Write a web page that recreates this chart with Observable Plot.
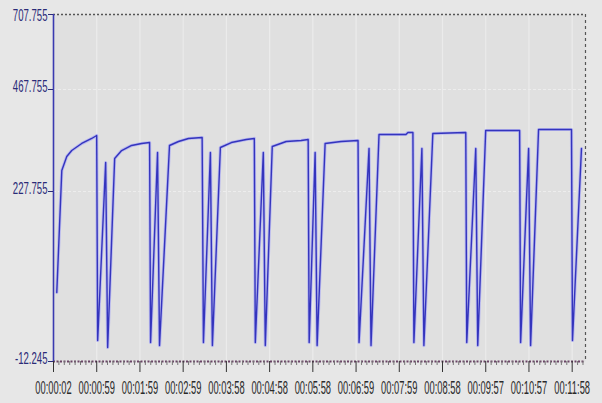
<!DOCTYPE html>
<html><head><meta charset="utf-8">
<script src="https://cdn.jsdelivr.net/npm/d3@7"></script>
<script src="https://cdn.jsdelivr.net/npm/@observablehq/plot@0.6"></script>
<style>
body{margin:0;background:#e7e7e7;}
#chart{width:602px;height:403px;}
</style>
</head><body><div id="chart"></div>
<script>
// elapsed position in tick units (one unit = one labelled tick interval)
const times = [0.076,0.192,0.307,0.422,0.653,0.884,0.999,1.022,1.207,1.253,1.415,1.576,1.807,2.038,2.223,2.246,2.407,2.453,2.684,2.892,3.123,3.439,3.469,3.630,3.676,3.861,4.115,4.461,4.646,4.669,4.854,4.900,5.061,5.384,5.730,5.892,5.915,6.053,6.099,6.284,6.653,7.046,7.069,7.300,7.346,7.531,8.154,8.200,8.315,8.338,8.523,8.569,8.776,9.538,9.561,9.769,9.815,9.999,10.784,10.807,10.992,11.038,11.222,11.984,12.007,12.215];
const values = [85.2,277.2,310.0,324.2,340.7,352.5,359.5,17.4,296.0,7.5,305.4,324.2,336.0,340.7,343.0,14.6,319.5,10.3,336.0,345.4,352.5,354.8,14.6,319.5,10.3,331.3,343.0,350.1,352.5,14.6,319.5,10.3,333.6,345.4,347.8,350.1,14.6,319.5,10.3,340.7,345.4,347.8,14.6,328.9,10.3,361.9,361.9,366.6,366.6,14.6,328.9,10.3,364.2,366.6,14.6,328.9,10.3,371.3,371.3,14.6,328.9,10.3,373.6,373.6,17.4,328.9];
const xTickPositions = [0,1,2,3,4,5,6,7,8,9,10,11,12];
const xTickLabels = ["00:00:02","00:00:59","00:01:59","00:02:59","00:03:58","00:04:58","00:05:58","00:06:59","00:07:59","00:08:58","00:09:57","00:10:57","00:11:58"];
const yTickValues = [-12.245, 227.755, 467.755, 707.755];
const xEnd = 12.308;
const minorPerMajor = 8;

// the source axis is not uniform: its labelled ticks sit at these relative heights
const yAxisStops = [0, 170, 272, 347];
const yWarp = d3.scaleLinear().domain(yTickValues).range(yAxisStops);

const data = times.map((t, i) => ({t, v: values[i]}));
const minorTicks = [];
for (let i = 1; i < xEnd * minorPerMajor; i++) if (i % minorPerMajor) minorTicks.push(i / minorPerMajor);

const hasAxisMarks = typeof Plot.axisX === "function";
const yFmt = d => yWarp.invert(d).toFixed(3);

const marks = [
  Plot.frame({fill: "#e0e0e0", stroke: null}),
  Plot.ruleX(xTickPositions.slice(1), {stroke: "#ebebeb", strokeWidth: 1.2}),
  Plot.ruleY(yTickValues.slice(1, 3), {stroke: "#ededed", strokeWidth: 1.2, strokeDasharray: "3,2"}),
  Plot.line(data, {x: "t", y: "v", stroke: "#b9b9ef", strokeWidth: 3.2}),
  Plot.line(data, {x: "t", y: "v", stroke: "#3434bd", strokeWidth: 1.4}),
  Plot.ruleY([yTickValues[3]], {stroke: "#555", strokeWidth: 1.6, strokeDasharray: "2,2"}),
  Plot.ruleX([xEnd], {stroke: "#555", strokeWidth: 1.2, strokeDasharray: "3,3"}),
  Plot.ruleY([yTickValues[0]], {stroke: "#6b4466", strokeWidth: 2, strokeDasharray: "2,1.5"}),
  Plot.ruleX([0], {stroke: "#3a3ab0", strokeWidth: 1.6})
];
if (hasAxisMarks) {
  marks.push(
    Plot.axisY({ticks: yTickValues.map(yWarp), tickFormat: yFmt, tickSize: 5, tickPadding: 1, color: "#2b2b78", label: null, fontSize: 12}),
    Plot.axisX({ticks: minorTicks, tickSize: 4, tickFormat: () => "", color: "#777", label: null}),
    Plot.axisX({ticks: xTickPositions, tickFormat: i => xTickLabels[i], tickSize: 11, tickPadding: 21, color: "#333", label: null, fontSize: 12})
  );
}

const chart = Plot.plot({
  width: 602,
  height: 403,
  marginLeft: 53,
  marginRight: 17,
  marginTop: 14,
  marginBottom: 42,
  style: {background: "#e7e7e7", fontFamily: "Liberation Sans, Arial, sans-serif", fontSize: "12px", color: "#333"},
  x: {domain: [0, xEnd], range: [53, 585], label: null, ...(hasAxisMarks ? {} : {ticks: xTickPositions, tickFormat: i => xTickLabels[i], tickSize: 11, tickPadding: 21})},
  y: {transform: yWarp, range: [361, 14], label: null, ...(hasAxisMarks ? {} : {ticks: yTickValues.map(yWarp), tickFormat: yFmt, tickSize: 5, tickPadding: 1})},
  marks
});
document.getElementById("chart").appendChild(chart);

function squeeze(t, sx, sy, shiftY) {
  const x = +t.getAttribute("x") || 0;
  const y = (+t.getAttribute("y") || 0) + shiftY;
  const tr = t.getAttribute("transform") || "";
  t.setAttribute("transform", `${tr} translate(${x},${y}) scale(${sx},${sy})`);
  t.setAttribute("x", 0);
  t.setAttribute("y", 0);
}
const yLabelSet = new Set(yTickValues.map(d => d.toFixed(3)));
const xLabelSet = new Set(xTickLabels);
chart.querySelectorAll("text").forEach(t => {
  const s = t.textContent;
  if (yLabelSet.has(s)) {
    t.setAttribute("fill", "#2b2b78");
    squeeze(t, 0.8, 1.4, s === "707.755" ? 6 : 2);
  } else if (xLabelSet.has(s)) {
    t.setAttribute("fill", "#2a2a2a");
    squeeze(t, 0.78, 1.55, 0);
  }
});
</script>
</body></html>
